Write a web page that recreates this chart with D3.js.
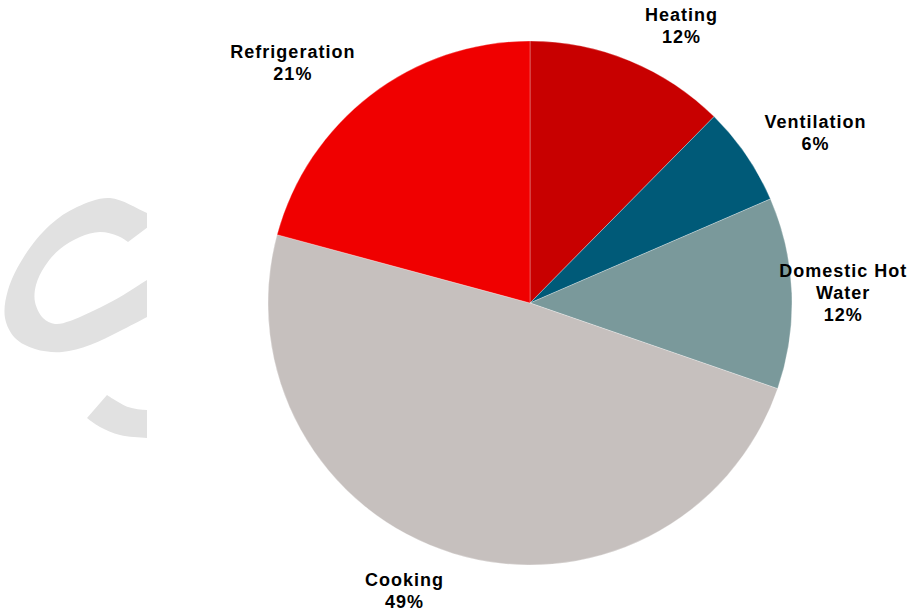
<!DOCTYPE html>
<html>
<head>
<meta charset="utf-8">
<script src="https://cdn.jsdelivr.net/npm/d3@7/dist/d3.min.js"></script>
<style>
  html, body { margin: 0; padding: 0; background: #ffffff; }
  svg { display: block; }
</style>
</head>
<body>
<svg id="chart" width="908" height="613"></svg>
<script>
// ---- data ----
const categories = ["Heating", "Ventilation", "Domestic Hot Water", "Cooking", "Refrigeration"];
const values = [12.4, 6.1, 11.8, 48.9, 20.8];
const labelLines = [["Heating"], ["Ventilation"], ["Domestic Hot", "Water"], ["Cooking"], ["Refrigeration"]];
const colors = ["#c80000", "#005a78", "#7a999b", "#c6c0be", "#f00000"];

// ---- layout ----
const W = 908, H = 613;
const cx = 530, cy = 303, R = 262;
const labelRadius = R * 1.2;
const labelNudge = [[32, 13], [26, 7], [-1, 1], [-33, -13], [-46, 9]];
const lineH = 22;

const svg = d3.select("#chart");

// watermark (decorative)
svg.append("defs").append("clipPath").attr("id", "wmclip")
  .append("rect").attr("x", 0).attr("y", 0).attr("width", 147).attr("height", H);
const wm = svg.append("g").attr("clip-path", "url(#wmclip)");
const smooth = d3.line().curve(d3.curveCatmullRom.alpha(0.5));
const outer = [[160, 218], [147, 213], [110, 198], [77, 207], [50, 225], [25, 255], [8, 290], [5, 318],
  [15, 338], [35, 349], [62, 352], [90, 345], [120, 331], [147, 317], [160, 310]];
const inner = [[160, 272], [147, 280], [120, 297], [95, 310], [70, 321], [55, 324], [43, 318], [35, 302],
  [36, 285], [45, 266], [60, 249], [80, 237], [100, 232], [118, 236], [128, 242]];
const cPath = smooth(outer) + smooth(inner).replace(/^M/, "L") + "Z";
wm.append("path").attr("d", cPath).attr("fill", "#e1e1e1");
const tailOuter = [[87, 418], [100, 427], [120, 435], [147, 438], [160, 439]];
const tailInner = [[160, 410], [147, 410], [128, 407], [107, 395]];
const tPath = smooth(tailOuter) + smooth(tailInner).replace(/^M/, "L") + "Z";
wm.append("path").attr("d", tPath).attr("fill", "#e1e1e1");

// pie
const pie = d3.pie().sort(null).value(d => d);
const arcs = pie(values);
const arc = d3.arc().innerRadius(0).outerRadius(R);

const g = svg.append("g").attr("transform", `translate(${cx},${cy})`);
g.selectAll("path.slice")
  .data(arcs)
  .join("path")
  .attr("class", "slice")
  .attr("d", arc)
  .attr("fill", (d, i) => colors[i])
  .attr("stroke", "rgba(255,255,255,0.35)")
  .attr("stroke-width", 0.8);

// labels
const lab = g.selectAll("text.lab")
  .data(arcs)
  .join("text")
  .attr("class", "lab")
  .attr("text-anchor", "middle")
  .attr("font-family", "Liberation Sans, Arial, sans-serif")
  .attr("font-weight", "bold")
  .attr("font-size", 18)
  .attr("letter-spacing", 1)
  .attr("fill", "#000");

lab.each(function (d, i) {
  const mid = (d.startAngle + d.endAngle) / 2;
  const x = labelRadius * Math.sin(mid) + labelNudge[i][0];
  const yc = -labelRadius * Math.cos(mid) + labelNudge[i][1];
  const lines = labelLines[i].concat([Math.round(values[i]) + "%"]);
  const y0 = yc - (lines.length - 1) * lineH / 2 + 6.5;
  const t = d3.select(this);
  lines.forEach((s, k) => {
    t.append("tspan").attr("x", x).attr("y", y0 + k * lineH).text(s);
  });
});
</script>
</body>
</html>
